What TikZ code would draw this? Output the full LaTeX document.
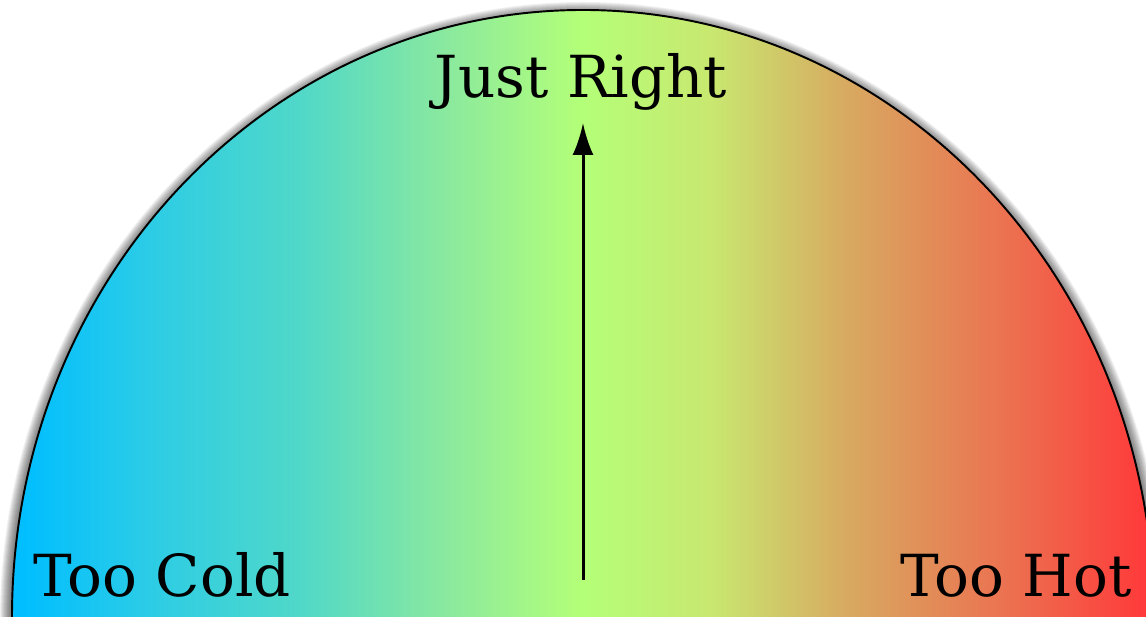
\documentclass[tikz,border=0pt]{standalone}
\usepackage{fontspec}
\setmainfont{DejaVu Serif}
\usepackage{xcolor}
\usepackage{tikz}
\usetikzlibrary{arrows.meta,positioning}

\definecolor{coldblue}{HTML}{00BEFF}
\definecolor{coolcyan}{HTML}{2CCCE6}
\definecolor{mintgreen}{HTML}{50D8C8}
\definecolor{seagreen}{HTML}{88E8A0}
\definecolor{rightgreen}{HTML}{B4FF78}
\definecolor{limeyellow}{HTML}{C8E870}
\definecolor{warmtan}{HTML}{D8A860}
\definecolor{warmorange}{HTML}{EC7050}
\definecolor{hotred}{HTML}{FF3A3A}

\pgfdeclarehorizontalshading{thermo}{100bp}{color(0bp)=(coldblue); color(25.9bp)=(coldblue);
  color(31.5bp)=(coolcyan); color(38.1bp)=(mintgreen); color(44.2bp)=(seagreen);
  color(50.4bp)=(rightgreen); color(56bp)=(limeyellow); color(62.1bp)=(warmtan);
  color(69.1bp)=(warmorange); color(75bp)=(hotred); color(100bp)=(hotred)}

\begin{document}
\begin{tikzpicture}[x=0.02cm,y=0.02cm,>={Latex[length=0.64cm,width=0.42cm]}]
\tikzstyle{label}=[font=\fontsize{33}{38}\selectfont,inner sep=0pt]
\tikzstyle{dial}=[draw=black,line width=1.1pt]
\useasboundingbox (0,0) rectangle (1146,617);
\clip (0,0) rectangle (1146,617);
% soft shadow round the dial
\foreach \k in {1,...,12}
  \draw[black,opacity=0.06,line width=\k*0.04cm] (583,-4) ellipse [x radius=571,y radius=607];
% the dial itself
\begin{scope}
  \clip (583,0) ellipse [x radius=571,y radius=607];
  \shade[shading=thermo] (0,0) rectangle (1146,617);
\end{scope}
\draw[dial] (583,0) ellipse [x radius=571,y radius=607];
\node[label,anchor=base] (right) at (581,519) {Just Right};
\node[label,anchor=base west] (cold) at (33,20) {Too Cold};
\node[label,anchor=base east] (hot) at (1132,20) {Too Hot};
\coordinate (base) at (583,37);
\coordinate (tip) at (583,494);
\draw[->,line width=1.7pt] (base) -- (tip);
\end{tikzpicture}
\end{document}
